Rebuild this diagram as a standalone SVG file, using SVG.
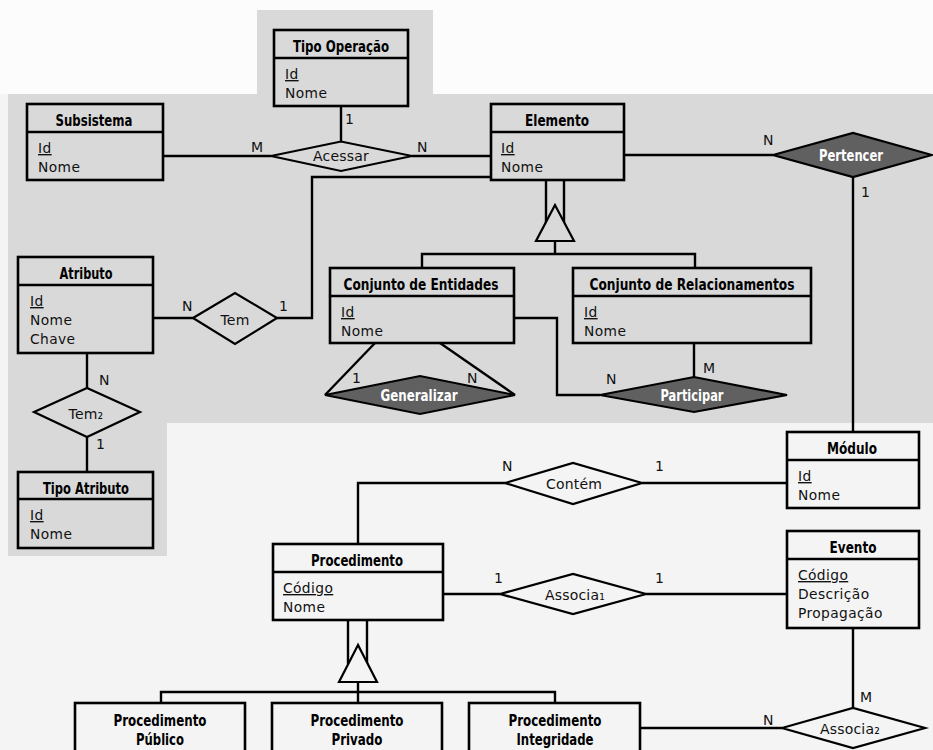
<svg xmlns="http://www.w3.org/2000/svg" width="933" height="750" viewBox="0 0 933 750">
  <style>
    .ent { stroke: #000; stroke-width: 2.6; }
    .gray { fill: #d9d9d9; }
    .light { fill: #f4f4f4; }
    .div { stroke: #000; stroke-width: 2.6; }
    .rel { stroke: #000; stroke-width: 2.2; stroke-linejoin: miter; }
    .dark { fill: #606060; }
    .conn { fill: none; stroke: #000; stroke-width: 2.4; }
    .hdr { font-family: "DejaVu Sans Condensed", "DejaVu Sans", sans-serif; font-weight: bold; font-size: 15px; fill: #000; text-anchor: middle; }
    .att { font-family: "DejaVu Sans", sans-serif; font-size: 13.8px; letter-spacing: 0.4px; fill: #111; }
    .key { text-decoration: underline; }
    .rtxt { font-family: "DejaVu Sans", sans-serif; font-size: 14px; letter-spacing: 0.2px; fill: #111; text-anchor: middle; }
    .wtxt { font-family: "DejaVu Sans Condensed", "DejaVu Sans", sans-serif; font-weight: bold; font-size: 15px; fill: #fff; text-anchor: middle; }
    .card { font-family: "DejaVu Sans", sans-serif; font-size: 14px; fill: #111; }
  </style>

  <!-- backdrop -->
  <rect x="0" y="0" width="933" height="750" fill="#f4f4f4"/>
  <rect x="0" y="0" width="933" height="94" fill="#fcfcfc"/>
  <path d="M257,10 H433 V94 H933 V423 H167 V556 H8 V94 H257 Z" fill="#d9d9d9"/>

  <!-- connectors -->
  <g id="connectors" class="conn">
    <path d="M341,106 V142"/>
    <path d="M163,156 H271"/>
    <path d="M412,156 H491"/>
    <path d="M491,177 H312 V318 H277"/>
    <path d="M153,318 H193"/>
    <path d="M87,353 V388"/>
    <path d="M87,437 V472"/>
    <path d="M624,155 H773"/>
    <path d="M853,177 V432"/>
    <path d="M546,180 V226"/>
    <path d="M564,180 V226"/>
    <path d="M555,241 V254"/>
    <path d="M422,268 V254 H695 V268"/>
    <path d="M375,343 L325,395"/>
    <path d="M440,343 L515,395"/>
    <path d="M514,318 H557 V395 H600"/>
    <path d="M694,343 V377"/>
    <path d="M787,483 H642"/>
    <path d="M505,483 H358 V544"/>
    <path d="M443,594 H500"/>
    <path d="M646,594 H787"/>
    <path d="M853,628 V708"/>
    <path d="M640,728 H782"/>
    <path d="M348,620 V664"/>
    <path d="M367,620 V664"/>
    <path d="M358,682 V703"/>
    <path d="M161,703 V692 H555 V703"/>
  </g>

  <!-- specialization triangles -->
  <polygon id="isa-elemento" points="555,205 536,241 574,241" class="rel gray"/>
  <polygon id="isa-procedimento" points="358,645 339,682 377,682" class="rel light"/>

  <!-- relationships -->
  <g id="acessar">
    <polygon points="271,156 341,141.5 412,156 341,171" class="rel gray"/>
    <text x="341" y="161" class="rtxt" font-size="12" letter-spacing="0.6">Acessar</text>
  </g>
  <g id="pertencer">
    <polygon points="773,155 853,133 932,155 853,177" class="rel dark"/>
    <text x="851" y="161" class="wtxt" textLength="64" lengthAdjust="spacingAndGlyphs">Pertencer</text>
  </g>
  <g id="tem">
    <polygon points="193,318 235,293 277,318 235,344" class="rel gray"/>
    <text x="235" y="325" class="rtxt">Tem</text>
  </g>
  <g id="tem2">
    <polygon points="34,412 87,388 140,412 87,437" class="rel gray"/>
    <text x="86" y="419" class="rtxt">Tem₂</text>
  </g>
  <g id="generalizar">
    <polygon points="325,395 420,376 515,395 420,414" class="rel dark"/>
    <text x="419" y="401" class="wtxt" textLength="77" lengthAdjust="spacingAndGlyphs">Generalizar</text>
  </g>
  <g id="participar">
    <polygon points="600,395 694,377 787,395 694,412" class="rel dark"/>
    <text x="692" y="401" class="wtxt" textLength="63" lengthAdjust="spacingAndGlyphs">Participar</text>
  </g>
  <g id="contem">
    <polygon points="505,483 573,463 642,483 573,504" class="rel light"/>
    <text x="574" y="489" class="rtxt">Contém</text>
  </g>
  <g id="associa1">
    <polygon points="500,594 573,574 646,594 573,614" class="rel light"/>
    <text x="575" y="600" class="rtxt">Associa₁</text>
  </g>
  <g id="associa2">
    <polygon points="782,728 853,708 925,728 853,748" class="rel light"/>
    <text x="850" y="734" class="rtxt">Associa₂</text>
  </g>

  <!-- cardinalities -->
  <g id="cardinalities" class="card">
    <text x="345" y="124">1</text>
    <text x="251" y="152">M</text>
    <text x="417" y="152">N</text>
    <text x="763" y="145">N</text>
    <text x="861" y="197">1</text>
    <text x="182" y="311">N</text>
    <text x="279" y="311">1</text>
    <text x="99" y="385">N</text>
    <text x="96" y="449">1</text>
    <text x="352" y="383">1</text>
    <text x="467" y="383">N</text>
    <text x="606" y="384">N</text>
    <text x="703" y="373">M</text>
    <text x="502" y="471">N</text>
    <text x="655" y="471">1</text>
    <text x="494" y="583">1</text>
    <text x="655" y="583">1</text>
    <text x="860" y="702">M</text>
    <text x="763" y="725">N</text>
  </g>

  <!-- entities -->
  <g id="tipo-operacao">
    <rect x="274" y="30" width="134" height="76" class="ent gray"/>
    <line x1="274" y1="58" x2="408" y2="58" class="div"/>
    <text x="341" y="52" class="hdr" textLength="96" lengthAdjust="spacingAndGlyphs">Tipo Operação</text>
    <text x="285" y="79" class="att key">Id</text>
    <text x="285" y="98" class="att">Nome</text>
  </g>
  <g id="subsistema">
    <rect x="27" y="104" width="136" height="76" class="ent gray"/>
    <line x1="27" y1="132" x2="163" y2="132" class="div"/>
    <text x="94" y="126" class="hdr" textLength="77" lengthAdjust="spacingAndGlyphs">Subsistema</text>
    <text x="38" y="153" class="att key">Id</text>
    <text x="38" y="172" class="att">Nome</text>
  </g>
  <g id="elemento">
    <rect x="491" y="104" width="133" height="76" class="ent gray"/>
    <line x1="491" y1="132" x2="624" y2="132" class="div"/>
    <text x="557" y="126" class="hdr" textLength="64" lengthAdjust="spacingAndGlyphs">Elemento</text>
    <text x="501" y="153" class="att key">Id</text>
    <text x="501" y="172" class="att">Nome</text>
  </g>
  <g id="atributo">
    <rect x="18" y="257" width="135" height="96" class="ent gray"/>
    <line x1="18" y1="285" x2="153" y2="285" class="div"/>
    <text x="86" y="279" class="hdr" textLength="53" lengthAdjust="spacingAndGlyphs">Atributo</text>
    <text x="30" y="306" class="att key">Id</text>
    <text x="30" y="325" class="att">Nome</text>
    <text x="30" y="344" class="att">Chave</text>
  </g>
  <g id="tipo-atributo">
    <rect x="18" y="472" width="135" height="76" class="ent gray"/>
    <line x1="18" y1="499" x2="153" y2="499" class="div"/>
    <text x="86" y="494" class="hdr" textLength="86" lengthAdjust="spacingAndGlyphs">Tipo Atributo</text>
    <text x="30" y="520" class="att key">Id</text>
    <text x="30" y="539" class="att">Nome</text>
  </g>
  <g id="conjunto-entidades">
    <rect x="330" y="268" width="184" height="75" class="ent gray"/>
    <line x1="330" y1="296" x2="514" y2="296" class="div"/>
    <text x="421" y="290" class="hdr" textLength="155" lengthAdjust="spacingAndGlyphs">Conjunto de Entidades</text>
    <text x="341" y="317" class="att key">Id</text>
    <text x="341" y="336" class="att">Nome</text>
  </g>
  <g id="conjunto-relacionamentos">
    <rect x="573" y="268" width="238" height="75" class="ent gray"/>
    <line x1="573" y1="296" x2="811" y2="296" class="div"/>
    <text x="692" y="290" class="hdr" textLength="205" lengthAdjust="spacingAndGlyphs">Conjunto de Relacionamentos</text>
    <text x="584" y="317" class="att key">Id</text>
    <text x="584" y="336" class="att">Nome</text>
  </g>
  <g id="modulo">
    <rect x="787" y="432" width="132" height="76" class="ent light"/>
    <line x1="787" y1="460" x2="919" y2="460" class="div"/>
    <text x="852" y="454" class="hdr" textLength="50" lengthAdjust="spacingAndGlyphs">Módulo</text>
    <text x="798" y="481" class="att key">Id</text>
    <text x="798" y="500" class="att">Nome</text>
  </g>
  <g id="evento">
    <rect x="787" y="531" width="132" height="97" class="ent light"/>
    <line x1="787" y1="559" x2="919" y2="559" class="div"/>
    <text x="853" y="553" class="hdr" textLength="47" lengthAdjust="spacingAndGlyphs">Evento</text>
    <text x="798" y="580" class="att key">Código</text>
    <text x="798" y="599" class="att">Descrição</text>
    <text x="798" y="618" class="att">Propagação</text>
  </g>
  <g id="procedimento">
    <rect x="273" y="544" width="170" height="76" class="ent light"/>
    <line x1="273" y1="572" x2="443" y2="572" class="div"/>
    <text x="357" y="566" class="hdr" textLength="92" lengthAdjust="spacingAndGlyphs">Procedimento</text>
    <text x="283" y="593" class="att key">Código</text>
    <text x="283" y="612" class="att">Nome</text>
  </g>
  <g id="procedimento-publico">
    <rect x="75" y="703" width="170" height="60" class="ent light"/>
    <text x="160" y="726" class="hdr" textLength="93" lengthAdjust="spacingAndGlyphs">Procedimento</text>
    <text x="160" y="745" class="hdr" textLength="48" lengthAdjust="spacingAndGlyphs">Público</text>
  </g>
  <g id="procedimento-privado">
    <rect x="272" y="703" width="170" height="60" class="ent light"/>
    <text x="357" y="726" class="hdr" textLength="93" lengthAdjust="spacingAndGlyphs">Procedimento</text>
    <text x="357" y="745" class="hdr" textLength="51" lengthAdjust="spacingAndGlyphs">Privado</text>
  </g>
  <g id="procedimento-integridade">
    <rect x="469" y="703" width="171" height="60" class="ent light"/>
    <text x="555" y="726" class="hdr" textLength="93" lengthAdjust="spacingAndGlyphs">Procedimento</text>
    <text x="555" y="745" class="hdr" textLength="77" lengthAdjust="spacingAndGlyphs">Integridade</text>
  </g>
</svg>
